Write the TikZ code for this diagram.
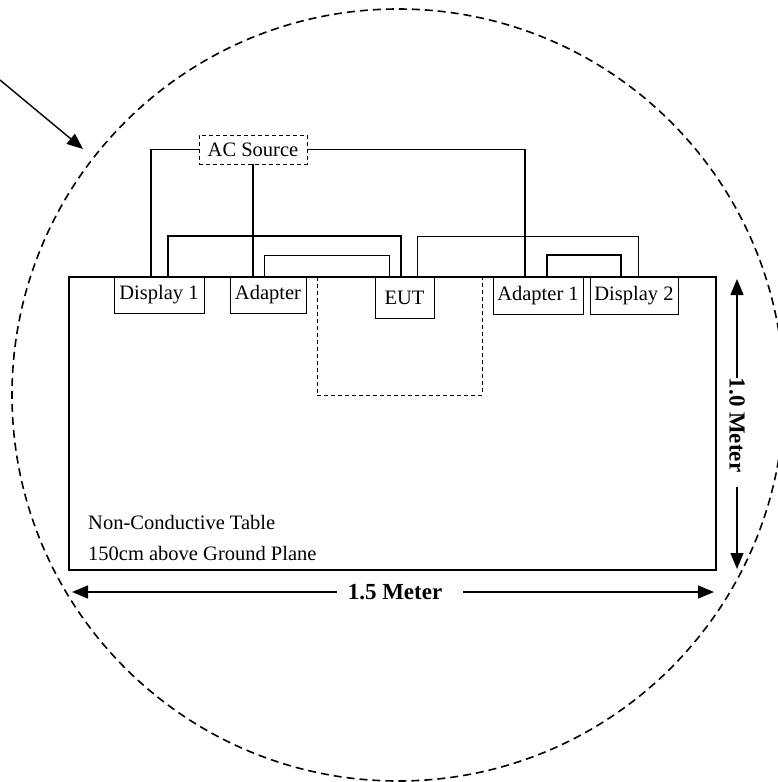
\documentclass[tikz,border=0pt]{standalone}
\usepackage{fontspec}
\setmainfont{Liberation Serif}
\usetikzlibrary{arrows.meta}
\begin{document}
\begin{tikzpicture}[x=1pt,y=-1pt,
  box/.style={draw, line width=0.8pt, inner sep=0pt, font=\fontsize{20.5}{24}\selectfont},
  dbox/.style={draw, dash pattern=on 4pt off 3pt, line width=0.8pt, inner sep=0pt},
  zoneline/.style={line width=1.6pt, dash pattern=on 8pt off 5pt},
  tablebox/.style={draw, line width=2pt, inner sep=0pt},
  wirethick/.style={line width=1.5pt},
  wirethin/.style={line width=0.8pt},
  tip/.style={-{Triangle[length=16pt,width=13pt]}},
  dim/.style={line width=1.4pt},
  lbl/.style={font=\fontsize{20.5}{24}\selectfont, inner sep=0pt},
  blbl/.style={font=\bfseries\fontsize{23}{26}\selectfont, inner sep=0pt}]

\useasboundingbox (0,0) rectangle (777,782);

% test zone
\draw[zoneline] (398,395) circle[radius=386];

% table
\node[tablebox, minimum width=647pt, minimum height=293pt] (tbl) at (392.5,423.5) {};
\node[dbox, minimum width=165pt, minimum height=118pt] (area) at (399.5,336) {};

% boxes
\node[box, fill=white, minimum width=90pt, minimum height=36pt] (d1) at (159,295) {Display 1};
\node[box, fill=white, minimum width=76pt, minimum height=36pt] (ad) at (268,295) {Adapter};
\node[box, fill=white, minimum width=59pt, minimum height=41pt] (eut) at (404.5,297.5) {EUT};
\node[box, fill=white, minimum width=90pt, minimum height=37pt] (ad1) at (538,295.5) {Adapter 1};
\node[box, fill=white, minimum width=88pt, minimum height=37pt] (d2) at (634,295.5) {Display 2};
\node[box, dash pattern=on 4pt off 3pt, minimum width=108pt, minimum height=29pt] (ac) at (253,149.5) {AC Source};

% attachment points
\coordinate (d1a) at (151,277);
\coordinate (d1b) at (168,277);
\coordinate (ada) at (264,277);
\coordinate (eua) at (389,277);
\coordinate (eub) at (401,277);
\coordinate (euc) at (417,277);
\coordinate (ad1a) at (525,277);
\coordinate (ad1b) at (547,277);
\coordinate (d2a) at (621,277);
\coordinate (d2b) at (638,277);

% wires
\draw[wirethick] (ac.west) -| (d1a);
\draw[wirethick] (ac.south) -- (ac.south |- ad.north);
\draw[wirethin, line width=1.1pt] (ac.east) -| (ad1a);
\draw[wirethick] (d1b) -- ++(0,-41) -| (eub);
\draw[wirethin] (ada) -- ++(0,-22) -| (eua);
\draw[wirethin] (euc) -- ++(0,-41) -| (d2b);
\draw[wirethick] (ad1b) -- ++(0,-22) -| (d2a);

% table text
\node[lbl, anchor=west] (t1) at (88,522) {Non-Conductive Table};
\node[lbl, anchor=west] (t2) at (88,553) {150cm above Ground Plane};

% dimensions
\node[blbl] (hdim) at (395,592) {1.5 Meter};
\coordinate (hl) at (72,592);
\coordinate (hr) at (714,592);
\draw[dim, tip] ([xshift=-11pt]hdim.west) -- (hl);
\draw[dim, tip] ([xshift=21pt]hdim.east) -- (hr);

\node[blbl, rotate=-90] (vdim) at (737,425) {1.0 Meter};
\coordinate (vt) at (737,279);
\coordinate (vb) at (737,569);
\draw[dim, tip] (vdim.west) -- (vt);
\draw[dim, tip] ([yshift=-15pt]vdim.east) -- (vb);

% pointer arrow
\coordinate (a0) at (0,80);
\coordinate (a1) at (83,149);
\draw[dim, tip] (a0) -- (a1);
\end{tikzpicture}
\end{document}
